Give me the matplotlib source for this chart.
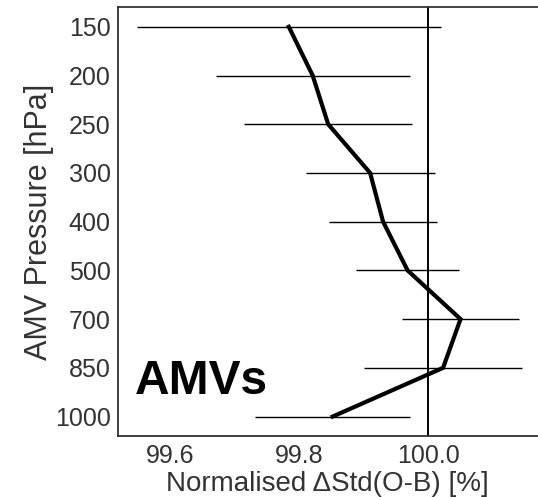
import matplotlib
matplotlib.use("Agg")
import matplotlib.pyplot as plt
import numpy as np

# Pressure levels (hPa) and normalised change in std(O-B) [%]
levels = ["150", "200", "250", "300", "400", "500", "700", "850", "1000"]
values = [99.784, 99.821, 99.845, 99.910, 99.930, 99.968, 100.050, 100.023, 99.852]
errors = [0.235, 0.150, 0.130, 0.100, 0.084, 0.080, 0.091, 0.122, 0.120]
xticks = [99.6, 99.8, 100.0]
xticklabels = ["99.6", "99.8", "100.0"]

plt.rcParams["font.family"] = ["Liberation Sans", "DejaVu Sans"]
text_col = "#333333"

fig = plt.figure(figsize=(5.38, 4.97), dpi=100)
ax = fig.add_axes([0.2188, 0.1227, 0.7812, 0.8626])

y = np.arange(len(levels))
ax.errorbar(values, y, xerr=errors, fmt="none", ecolor="black", elinewidth=1.0,
            capsize=0, zorder=2)
ax.plot(values, y, color="black", lw=3.0, zorder=3, solid_joinstyle="miter")
ax.axvline(100.0, color="black", lw=1.4, zorder=1)

ax.set_ylim(len(levels) - 1 + 0.4, -0.4)
ax.set_xlim(99.519, 100.170)
ax.set_yticks(y)
ax.set_yticklabels(levels)
ax.set_xticks(xticks)
ax.set_xticklabels(xticklabels)
ax.tick_params(length=0, labelsize=18, labelcolor=text_col, pad=5)
ax.tick_params(axis="x", pad=6)

for side in ["left", "top", "bottom"]:
    ax.spines[side].set_color(text_col)
    ax.spines[side].set_linewidth(1.3)
ax.spines["right"].set_visible(False)

ax.set_xlabel("Normalised \u0394Std(O-B) [%]", fontsize=20, color=text_col, labelpad=2)
ax.set_ylabel("AMV Pressure [hPa]", fontsize=22, color=text_col, labelpad=1)

ax.text(0.0395, 0.098, "AMVs", transform=ax.transAxes, fontsize=34.5,
        fontweight="bold", color="black", ha="left", va="baseline")

fig.savefig("out.png", dpi=100)
